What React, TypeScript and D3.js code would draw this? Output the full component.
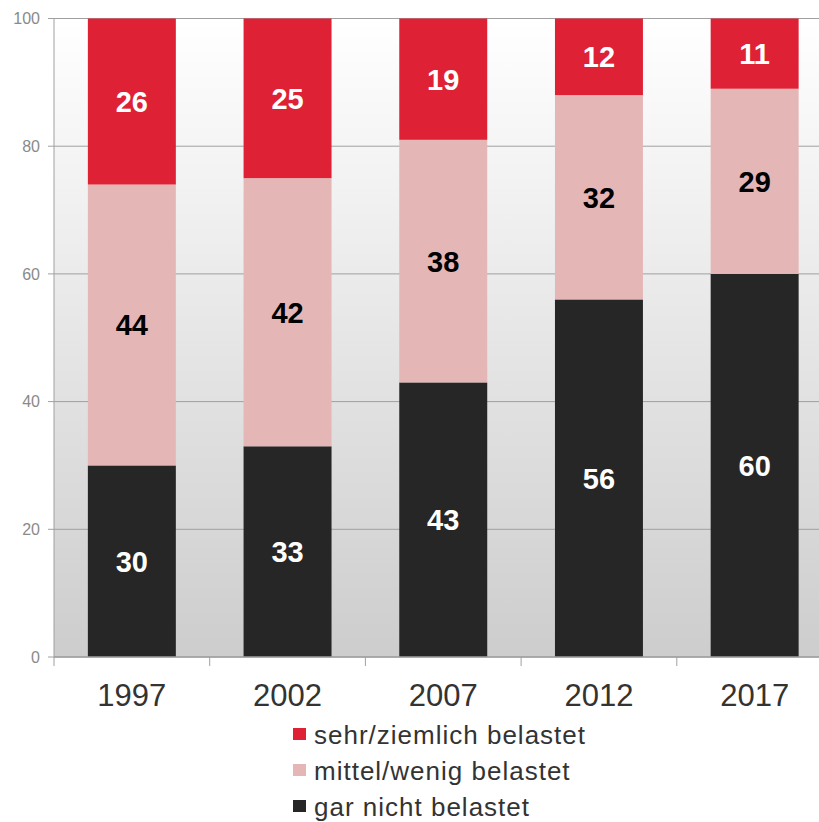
import React, { useRef, useEffect } from "react";
import * as d3 from "d3";

const years = ["1997", "2002", "2007", "2012", "2017"];
const garNicht = [30, 33, 43, 56, 60];
const mittel = [44, 42, 38, 32, 29];
const sehr = [26, 25, 19, 12, 11];
const yTicks = [0, 20, 40, 60, 80, 100];

const seriesNames = ["gar nicht belastet", "mittel/wenig belastet", "sehr/ziemlich belastet"];
const seriesColors = ["#262626", "#e5b6b6", "#de2134"];
const labelColors = ["#ffffff", "#000000", "#ffffff"];

const width = 819;
const height = 822;
const font = "Liberation Sans, Arial, sans-serif";

const App = () => {
  const svgRef = useRef<SVGSVGElement>(null);

  useEffect(() => {
    const svg = d3.select(svgRef.current);
    svg.selectAll("*").remove();

    const left = 54;
    const top = 18.5;
    const bottom = 657;
    const right = 832.5;

    const x = d3.scaleBand().domain(years).range([left, right]).paddingInner(0.435).paddingOuter(0.2175);
    const y = d3.scaleLinear().domain([0, 100]).range([bottom, top]);

    // background gradient
    const defs = svg.append("defs");
    const grad = defs
      .append("linearGradient")
      .attr("id", "bg")
      .attr("x1", 0)
      .attr("y1", 0)
      .attr("x2", 0)
      .attr("y2", 1);
    grad.append("stop").attr("offset", "0%").attr("stop-color", "#ffffff");
    grad.append("stop").attr("offset", "100%").attr("stop-color", "#cdcdcd");

    svg
      .append("rect")
      .attr("x", left)
      .attr("y", top)
      .attr("width", right - left)
      .attr("height", bottom - top)
      .attr("fill", "url(#bg)");

    // gridlines + y ticks
    const yAxis = svg.append("g");
    yTicks.forEach((t) => {
      yAxis
        .append("line")
        .attr("x1", left - 6)
        .attr("x2", right)
        .attr("y1", y(t))
        .attr("y2", y(t))
        .attr("stroke", "#a0a0a0")
        .attr("stroke-width", 1);
      yAxis
        .append("text")
        .attr("x", 40)
        .attr("y", y(t))
        .attr("dy", "0.35em")
        .attr("text-anchor", "end")
        .attr("fill", "#8a8a8a")
        .attr("font-size", 16)
        .attr("font-family", font)
        .text(t);
    });
    yAxis
      .append("line")
      .attr("x1", left)
      .attr("x2", left)
      .attr("y1", top)
      .attr("y2", bottom)
      .attr("stroke", "#a0a0a0");

    // stacked bars
    const rows = years.map((yr, i) => ({ year: yr, s0: garNicht[i], s1: mittel[i], s2: sehr[i] }));
    const stack = d3.stack<any>().keys(["s0", "s1", "s2"]);
    const stacked = stack(rows);

    stacked.forEach((layer, li) => {
      const g = svg.append("g");
      g.selectAll("rect")
        .data(layer)
        .enter()
        .append("rect")
        .attr("x", (d: any) => x(d.data.year)!)
        .attr("width", x.bandwidth())
        .attr("y", (d) => y(d[1]))
        .attr("height", (d) => y(d[0]) - y(d[1]))
        .attr("fill", seriesColors[li]);
      g.selectAll("text")
        .data(layer)
        .enter()
        .append("text")
        .attr("x", (d: any) => x(d.data.year)! + x.bandwidth() / 2)
        .attr("y", (d) => (y(d[0]) + y(d[1])) / 2)
        .attr("dy", "0.36em")
        .attr("text-anchor", "middle")
        .attr("fill", labelColors[li])
        .attr("font-size", 29)
        .attr("font-weight", "bold")
        .attr("font-family", font)
        .text((d) => d[1] - d[0]);
    });

    // x axis
    const xAxis = svg.append("g");
    xAxis
      .append("line")
      .attr("x1", left)
      .attr("x2", right)
      .attr("y1", bottom)
      .attr("y2", bottom)
      .attr("stroke", "#a0a0a0")
      .attr("stroke-width", 1.5);
    const step = x.step();
    years.forEach((yr, i) => {
      const bx = left + i * step;
      xAxis
        .append("line")
        .attr("x1", bx)
        .attr("x2", bx)
        .attr("y1", bottom)
        .attr("y2", bottom + 9)
        .attr("stroke", "#a0a0a0");
      xAxis
        .append("text")
        .attr("x", x(yr)! + x.bandwidth() / 2)
        .attr("y", 706)
        .attr("text-anchor", "middle")
        .attr("fill", "#333333")
        .attr("font-size", 31)
        .attr("font-family", font)
        .text(yr);
    });

    // legend
    const legendOrder = [2, 1, 0];
    const legend = svg.append("g");
    legendOrder.forEach((si, k) => {
      const base = 744 + k * 36;
      legend
        .append("rect")
        .attr("x", 293)
        .attr("y", base - 16)
        .attr("width", 13)
        .attr("height", 12)
        .attr("fill", seriesColors[si]);
      legend
        .append("text")
        .attr("x", 314)
        .attr("y", base)
        .attr("fill", "#333333")
        .attr("font-size", 26)
        .attr("letter-spacing", 1)
        .attr("font-family", font)
        .text(seriesNames[si]);
    });
  }, []);

  return (
    <svg
      ref={svgRef}
      width={width}
      height={height}
      style={{ position: "absolute", left: 0, top: 0, background: "#ffffff" }}
    />
  );
};

export default App;
